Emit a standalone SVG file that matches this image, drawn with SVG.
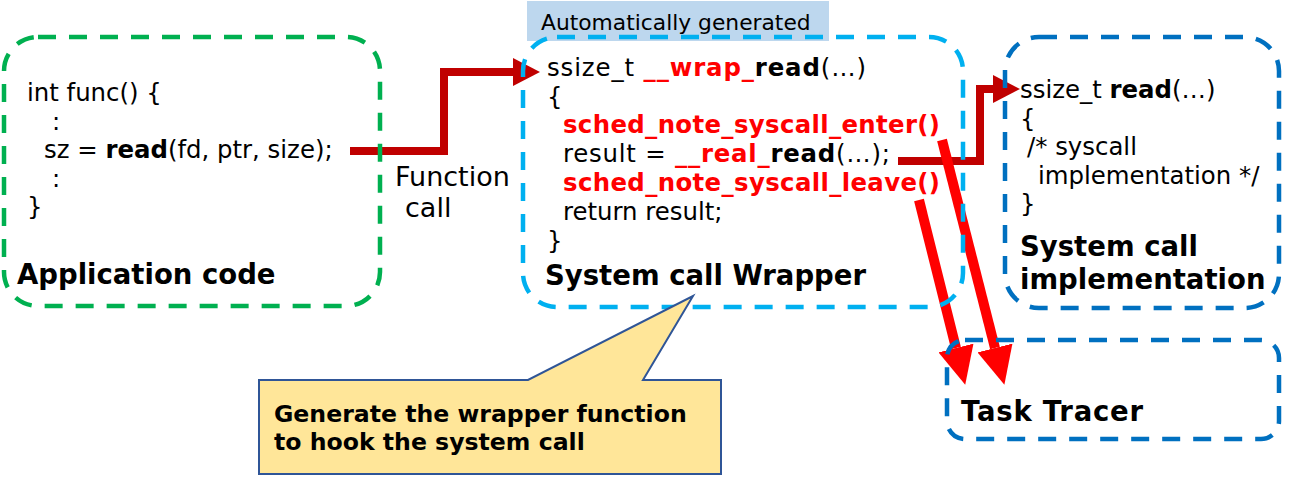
<svg xmlns="http://www.w3.org/2000/svg" width="1289" height="485" viewBox="0 0 1289 485">
<style>
text{font-family:"DejaVu Sans","Liberation Sans",sans-serif;fill:#000}
.code{font-size:24.4px}
.title{font-size:27.5px;font-weight:bold}
.b{font-weight:bold}
.r{fill:#FF0000;font-weight:bold}
.box{fill:none;stroke-width:4.5;stroke-dasharray:18 13}
.dk{fill:none;stroke:#C00000;stroke-width:8}
.br{fill:none;stroke:#FF0000;stroke-width:10}
</style>
<defs>
<marker id="hd" markerUnits="userSpaceOnUse" markerWidth="27" markerHeight="28" refX="0" refY="14" orient="auto">
<path d="M0,0 L27,14 L0,28 Z" fill="#C00000"/>
</marker>
<marker id="hr" markerUnits="userSpaceOnUse" markerWidth="38" markerHeight="36" refX="0" refY="18" orient="auto">
<path d="M0,0 L38,18 L0,36 Z" fill="#FF0000"/>
</marker>
</defs>
<g id="connectors">
<path class="dk" d="M350,151 H444 V72 H513" marker-end="url(#hd)"/>
<path class="dk" d="M898,161 H980 V89 H993" marker-end="url(#hd)"/>
<path class="br" d="M942,140 L995,348" marker-end="url(#hr)"/>
<path class="br" d="M919,200 L956,348" marker-end="url(#hr)"/>
</g>
<g id="app">
<rect class="box" x="4" y="37" width="376" height="269" rx="34" stroke="#00B050"/>
<text class="code" x="27" y="101">int func() {</text>
<text class="code" x="52" y="130">:</text>
<text class="code" x="44" y="158">sz = <tspan class="b">read</tspan>(fd, ptr, size);</text>
<text class="code" x="52" y="187">:</text>
<text class="code" x="27" y="215">}</text>
<text class="title" x="17" y="284">Application code</text>
</g>
<g id="fcall">
<text x="395" y="186" font-size="27">Function</text>
<text x="405" y="217" font-size="27">call</text>
</g>
<g id="autogen">
<rect x="527" y="1" width="302" height="40" fill="#BDD7EE"/>
<text x="541" y="30" font-size="21.8">Automatically generated</text>
</g>
<g id="wrapper">
<rect class="box" x="523" y="37" width="440" height="270" rx="34" stroke="#00B0F0"/>
<text class="code" x="547" y="76" textLength="319" lengthAdjust="spacing">ssize_t <tspan class="r">__wrap_</tspan><tspan class="b">read</tspan>(…)</text>
<text class="code" x="547" y="105">{</text>
<text class="code r" x="563" y="133" textLength="377" lengthAdjust="spacing">sched_note_syscall_enter()</text>
<text class="code" x="563" y="162" textLength="327" lengthAdjust="spacing">result = <tspan class="r">__real_</tspan><tspan class="b">read</tspan>(…);</text>
<text class="code r" x="563" y="191" textLength="377" lengthAdjust="spacing">sched_note_syscall_leave()</text>
<text class="code" x="563" y="220">return result;</text>
<text class="code" x="547" y="249">}</text>
<text class="title" x="545" y="285">System call Wrapper</text>
</g>
<g id="impl">
<rect class="box" x="1005" y="37" width="274" height="271" rx="34" stroke="#0070C0"/>
<text class="code" x="1020" y="98">ssize_t <tspan class="b">read</tspan>(…)</text>
<text class="code" x="1020" y="127">{</text>
<text class="code" x="1027" y="155">/* syscall</text>
<text class="code" x="1038" y="184">implementation */</text>
<text class="code" x="1020" y="212">}</text>
<text class="title" x="1020" y="256">System call</text>
<text class="title" x="1020" y="289">implementation</text>
</g>
<g id="tracer">
<rect class="box" x="947" y="340" width="332" height="99" rx="18" stroke="#0070C0"/>
<text class="title" x="961" y="421" textLength="182" lengthAdjust="spacing">Task Tracer</text>
</g>
<g id="callout">
<path d="M259,380 H528 L693,296 L643,380 H721 V474 H259 Z" fill="#FFE699" stroke="#2F5597" stroke-width="2"/>
<text x="274" y="422" font-size="23.6" class="b">Generate the wrapper function</text>
<text x="274" y="450" font-size="23.6" class="b">to hook the system call</text>
</g>
</svg>
